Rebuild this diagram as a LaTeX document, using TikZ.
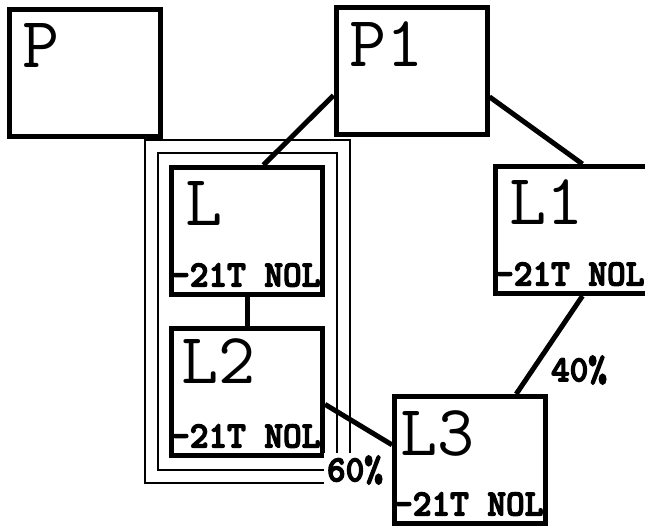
\documentclass[tikz,border=0pt]{standalone}
\usepackage{fontspec}
\newfontfamily\codefont{lmmonolt10-bold.otf}[FakeBold=3.5, FakeStretch=0.96]
\usetikzlibrary{positioning, fit}
\begin{document}
\begin{tikzpicture}[x=1pt, y=-1pt,
    unit/.style={draw, line width=5pt, minimum width=151pt, minimum height=127pt, inner sep=0pt},
    tag/.style={inner sep=0pt, font=\ttfamily\fontsize{72}{72}\selectfont},
    code/.style={inner sep=0pt, font=\codefont\fontsize{37}{37}\selectfont},
    link/.style={line width=5pt}]
  \useasboundingbox (0,0) rectangle (645,529);
  % boxes
  \node[unit] (P) at (84.5,73) {};
  \node[unit] (P1) at (411.5,71.5) {};
  \node[unit] (L) at (247,231) {};
  \node[unit] (L2) at (247,392) {};
  \node[unit, minimum width=160pt] (L1) at (575.5,230) {};
  \node[unit] (L3) at (470,460) {};
  % names
  \node[tag, below right=16pt and 16pt of P.north west] (Ptag) {P};
  \node[tag, below right=16pt and 16pt of P1.north west] (P1tag) {P1};
  \node[tag, below right=16pt and 16pt of L.north west] (Ltag) {L};
  \node[tag, below right=12pt and 12pt of L2.north west] (L2tag) {L2};
  \node[tag, below right=15pt and 16pt of L1.north west] (L1tag) {L1};
  \node[tag, below right=16pt and 8pt of L3.north west] (L3tag) {L3};
  \node[code, above right=10pt and 2pt of L.south west] (Lcode) {-21T NOL};
  \node[code, above right=10pt and 2pt of L2.south west] (L2code) {-21T NOL};
  \node[code, above right=10pt and 2pt of L1.south west] (L1code) {-21T NOL};
  \node[code, above right=10pt and 2pt of L3.south west] (L3code) {-21T NOL};
  % group
  \node[draw, double, line width=2pt, double distance=11pt, inner sep=18pt, fit=(L)(L2)] (group) {};
  % links
  \draw[link] (P1.197) -- (L.76);
  \draw[link] (P1.-18) -- (L1.84);
  \draw[link] (L) -- (L2);
  \draw[link] (L2.-9) -- (L3.169);
  \draw[link] (L1.276) -- (L3.55);
  \node[code] (share40) at (579,370) {40\%};
  \node[code, fill=white, inner sep=3pt] (share60) at (355,470) {60\%};
\end{tikzpicture}
\end{document}
